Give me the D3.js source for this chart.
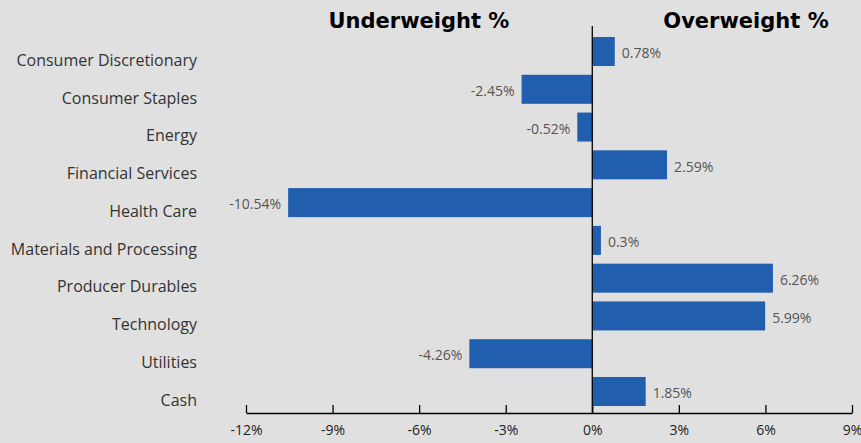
<!DOCTYPE html>
<html><head><meta charset="utf-8">
<script src="https://cdn.jsdelivr.net/npm/d3@7"></script>
<style>
html,body{margin:0;padding:0;background:#e0e0e0;}
svg{display:block;font-family:"Open Sans",Lato,sans-serif;}
</style></head>
<body>
<svg id="c" width="861" height="443"></svg>
<script>
const categories = ["Consumer Discretionary","Consumer Staples","Energy","Financial Services","Health Care","Materials and Processing","Producer Durables","Technology","Utilities","Cash"];
const values = [0.78,-2.45,-0.52,2.59,-10.54,0.3,6.26,5.99,-4.26,1.85];
const valueLabels = ["0.78%","-2.45%","-0.52%","2.59%","-10.54%","0.3%","6.26%","5.99%","-4.26%","1.85%"];
const tickValues = [-12,-9,-6,-3,0,3,6,9];
const titles = ["Underweight %","Overweight %"];

const svg = d3.select("#c");
svg.append("rect").attr("width",861).attr("height",443).attr("fill","#e0e0e0");

const x = d3.scaleLinear().domain([-12,9]).range([246,852]);
const y = d3.scaleBand().domain(categories).range([37,406]).paddingInner(0.232).paddingOuter(0);

svg.selectAll("rect.bar").data(categories).join("rect").attr("class","bar")
  .attr("x",(d,i)=>x(Math.min(0,values[i])))
  .attr("width",(d,i)=>Math.abs(x(values[i])-x(0)))
  .attr("y",d=>y(d)).attr("height",y.bandwidth())
  .attr("fill","#215fae");

svg.selectAll("text.val").data(categories).join("text").attr("class","val")
  .attr("x",(d,i)=>values[i]>=0 ? x(values[i])+7 : x(values[i])-7)
  .attr("y",d=>y(d)+y.bandwidth()/2+3)
  .attr("dominant-baseline","middle")
  .attr("text-anchor",(d,i)=>values[i]>=0?"start":"end")
  .attr("font-size",14).attr("fill","#555")
  .text((d,i)=>valueLabels[i]);

svg.selectAll("text.cat").data(categories).join("text").attr("class","cat")
  .attr("x",197).attr("y",d=>y(d)+y.bandwidth()/2+10)
  .attr("dominant-baseline","middle").attr("text-anchor","end")
  .attr("font-size",16).attr("fill","#333").text(d=>d);

// zero line
svg.append("line").attr("x1",x(0)).attr("x2",x(0)).attr("y1",26).attr("y2",413)
  .attr("stroke","#000").attr("stroke-width",1.3);

// axis
const axis = d3.axisBottom(x).tickValues(tickValues).tickSizeInner(-8).tickSizeOuter(0).tickPadding(12)
  .tickFormat(d=>d+"%");
const g = svg.append("g").attr("transform","translate(0,413)").call(axis);
g.select(".domain").attr("stroke","#000").attr("stroke-width",1.3);
g.selectAll(".tick line").attr("stroke","#000").attr("stroke-width",1.3);
g.selectAll(".tick text").attr("font-size",14).attr("fill","#222").attr("font-family","'Open Sans',Lato,sans-serif");

svg.selectAll("text.title").data(titles).join("text").attr("class","title")
  .attr("x",(d,i)=>i===0?419:746).attr("y",28)
  .attr("text-anchor","middle").attr("font-size",21).attr("font-weight","bold")
  .attr("font-family","'DejaVu Sans',sans-serif")
  .attr("fill","#000").text(d=>d);
</script>
</body></html>
